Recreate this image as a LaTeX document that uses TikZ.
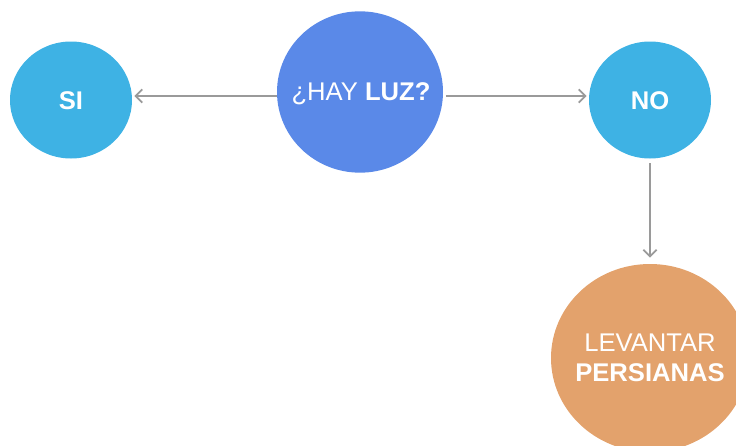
\documentclass[tikz,border=0pt]{standalone}
\usepackage{fontspec}
\setmainfont{Liberation Sans}
\usetikzlibrary{shapes.geometric,arrows.meta}
\definecolor{skyblue}{HTML}{3EB2E4}
\definecolor{royal}{HTML}{5A89E8}
\definecolor{peach}{HTML}{E3A26C}
\definecolor{linegray}{HTML}{9A9A9A}
\tikzset{
  bubble/.style={ellipse, inner sep=0pt},
  caption/.style={text=white, align=center, inner sep=0pt,
    font=\fontsize{19.2pt}{22.5pt}\selectfont},
  arr/.style={draw=linegray, line width=1.5pt,
    -{Straight Barb[length=5pt,width=10pt,line width=1.4pt]}}
}
\begin{document}
\begin{tikzpicture}[x=0.75pt,y=-0.75pt]
  \useasboundingbox (0,0) rectangle (736,446);
  \clip (0,0) rectangle (736,446);
  % filled bubbles
  \node[bubble, fill=skyblue, minimum width=91.5pt, minimum height=87.75pt] (si) at (71,100) {};
  \node[bubble, fill=royal, minimum width=124.5pt, minimum height=121pt] (hay) at (360,92) {};
  \node[bubble, fill=skyblue, minimum width=91.5pt, minimum height=87.75pt] (no) at (650,100) {};
  \node[bubble, fill=peach, minimum width=148.5pt, minimum height=141pt] (lev) at (650,358) {};
  % captions
  \node[caption] (siText) at (71,101) {\bfseries SI};
  \node[caption, anchor=base] (hayText) at (361,100.5) {¿HAY \textbf{LUZ?}};
  \node[caption] (noText) at (650,101) {\bfseries NO};
  \node[caption] (levText) at (650,358) {LEVANTAR\\\textbf{PERSIANAS}};
  % connectors
  \coordinate (row) at (0,96);
  \draw[arr] (hay.west |- row) -- ([xshift=1.5pt]si.east |- row);
  \draw[arr, shorten <=2pt, shorten >=1.5pt] (hay.east |- row) -- (no.west |- row);
  \draw[arr, shorten <=3.5pt, shorten >=4.5pt] (no.south) -- (lev.north);
\end{tikzpicture}
\end{document}
